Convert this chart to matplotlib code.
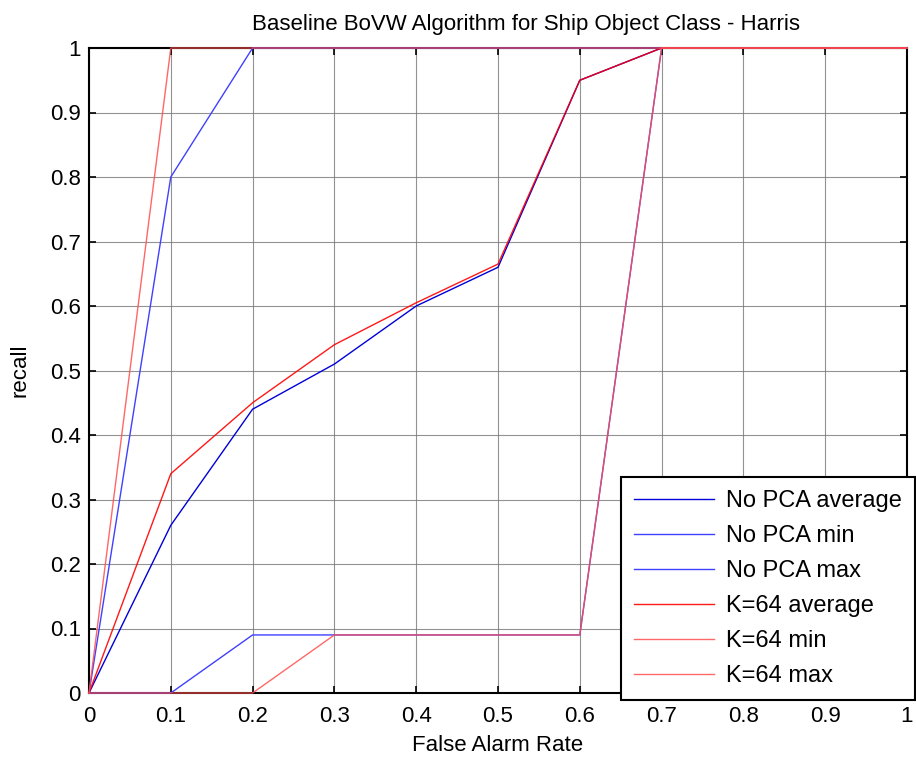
import numpy as np
import matplotlib
matplotlib.use("Agg")
import matplotlib.pyplot as plt

plt.rcParams['font.family'] = ['Liberation Sans', 'DejaVu Sans']

far = [0, 0.1, 0.2, 0.3, 0.4, 0.5, 0.6, 0.7, 0.8, 0.9, 1.0]

nopca_avg = [0, 0.26, 0.44, 0.51, 0.60, 0.66, 0.95, 1, 1, 1, 1]
nopca_min = [0, 0, 0.09, 0.09, 0.09, 0.09, 0.09, 1, 1, 1, 1]
nopca_max = [0, 0.8, 1, 1, 1, 1, 1, 1, 1, 1, 1]
k64_avg = [0, 0.34, 0.45, 0.54, 0.605, 0.665, 0.95, 1, 1, 1, 1]
k64_min = [0, 0, 0, 0.09, 0.09, 0.09, 0.09, 1, 1, 1, 1]
k64_max = [0, 1, 1, 1, 1, 1, 1, 1, 1, 1, 1]

fig = plt.figure(figsize=(9.16, 7.62), dpi=100)
ax = fig.add_axes([89 / 916, 1 - 693 / 762, (907 - 89) / 916, (693 - 48) / 762])

kw = dict(lw=1.0, clip_on=False, zorder=5)
ax.plot(far, nopca_avg, color=(0, 0, 0.85), label='No PCA average', **kw)
ax.plot(far, nopca_min, color=(0.25, 0.25, 1), label='No PCA min', **kw)
ax.plot(far, nopca_max, color=(0.25, 0.25, 1), label='No PCA max', **kw)
ax.plot(far, k64_avg, color=(1, 0, 0), alpha=0.9, label='K=64 average', **kw)
ax.plot(far, k64_min, color=(1, 0.3, 0.3), alpha=0.85, label='K=64 min', **kw)
ax.plot(far, k64_max, color=(1, 0.3, 0.3), alpha=0.85, label='K=64 max', **kw)

ax.set_xlim(0, 1)
ax.set_ylim(0, 1)
ticks = np.round(np.arange(0, 1.01, 0.1), 1)
ax.set_xticks(ticks)
ax.set_yticks(ticks)
labels = ['0'] + ['%.1f' % t for t in ticks[1:-1]] + ['1']
ax.set_xticklabels(labels)
ax.set_yticklabels(labels)
ax.tick_params(direction='in', top=True, right=True, labelsize=16, length=5, width=1.2)
ax.tick_params(axis='x', pad=9)
ax.tick_params(axis='y', pad=6)
ax.grid(True, color='#777777', lw=0.8, alpha=0.8)
ax.set_axisbelow(True)
for s in ax.spines.values():
    s.set_linewidth(1.5)

ax.set_title('Baseline BoVW Algorithm for Ship Object Class - Harris', fontsize=16, pad=13, x=0.534)
ax.set_xlabel('False Alarm Rate', fontsize=16, labelpad=6)
ax.set_ylabel('recall', fontsize=16, labelpad=14)

leg = ax.legend(loc='upper left', bbox_to_anchor=(621 / 916, 1 - 477 / 762),
                bbox_transform=fig.transFigure, fontsize=17, fancybox=False,
                framealpha=1, edgecolor='black', handlelength=3.4, borderpad=0.55,
                labelspacing=0.55, handletextpad=0.5, borderaxespad=0)
leg.get_frame().set_linewidth(1.5)
leg.set_zorder(10)

fig.savefig('out.png', dpi=100)
